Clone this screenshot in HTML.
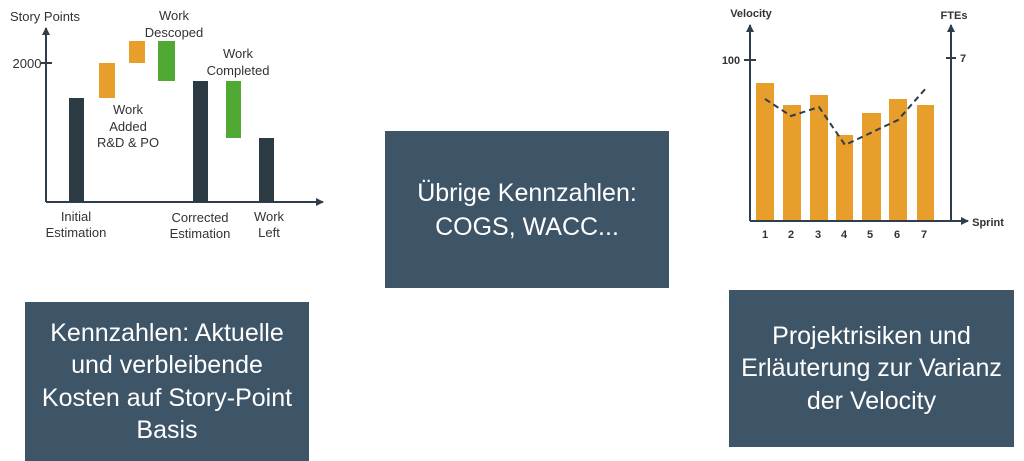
<!DOCTYPE html>
<html><head><meta charset="utf-8"><style>
html,body{margin:0;padding:0;background:#fff;width:1024px;height:461px;overflow:hidden;position:relative;font-family:"Liberation Sans",sans-serif}
.box{position:absolute;background:#3e5467;color:#fff;display:flex;align-items:center;justify-content:center;text-align:center;font-size:25px;line-height:32.5px;white-space:nowrap}
svg{position:absolute;left:0;top:0}
</style></head><body>
<svg width="1024" height="461" viewBox="0 0 1024 461" font-family="Liberation Sans, sans-serif">
<defs><marker id="a" markerWidth="8" markerHeight="8" refX="7" refY="4" orient="auto" markerUnits="userSpaceOnUse"><path d="M0,0 L8,4 L0,8 z" fill="#2f3e4a"/></marker></defs>
<g stroke="#2f3e4a" stroke-width="2" fill="none">
<line x1="46" y1="202" x2="46" y2="28" marker-end="url(#a)"/>
<line x1="46" y1="202" x2="323" y2="202" marker-end="url(#a)"/>
<line x1="41" y1="63" x2="52" y2="63"/>
</g>
<rect x="69" y="98" width="15" height="104" fill="#2b3a43"/>
<rect x="99" y="63" width="16" height="35" fill="#e89e2a"/>
<rect x="129" y="41" width="16" height="22" fill="#e89e2a"/>
<rect x="158" y="41" width="17" height="40" fill="#4fa933"/>
<rect x="193" y="81" width="15" height="121" fill="#2b3a43"/>
<rect x="226" y="81" width="15" height="57" fill="#4fa933"/>
<rect x="259" y="138" width="15" height="64" fill="#2b3a43"/>
<g font-size="13" fill="#333" text-anchor="middle">
<text x="45" y="21">Story Points</text>
<text x="27" y="68">2000</text>
<text x="174" y="20">Work</text><text x="174" y="37">Descoped</text>
<text x="238" y="58">Work</text><text x="238" y="75">Completed</text>
<text x="128" y="114">Work</text><text x="128" y="131">Added</text><text x="128" y="147">R&amp;D &amp; PO</text>
<text x="76" y="221">Initial</text><text x="76" y="237">Estimation</text>
<text x="200" y="222">Corrected</text><text x="200" y="238">Estimation</text>
<text x="269" y="221">Work</text><text x="269" y="237">Left</text>
</g>
<rect x="756" y="83" width="18" height="138" fill="#e89e2a"/>
<rect x="783" y="105" width="18" height="116" fill="#e89e2a"/>
<rect x="810" y="95" width="18" height="126" fill="#e89e2a"/>
<rect x="836" y="135" width="17" height="86" fill="#e89e2a"/>
<rect x="862" y="113" width="19" height="108" fill="#e89e2a"/>
<rect x="889" y="99" width="18" height="122" fill="#e89e2a"/>
<rect x="917" y="105" width="17" height="116" fill="#e89e2a"/>
<g stroke="#2f3e4a" stroke-width="2" fill="none">
<line x1="750" y1="221" x2="750" y2="25" marker-end="url(#a)"/>
<line x1="951" y1="221" x2="951" y2="25" marker-end="url(#a)"/>
<line x1="750" y1="221" x2="968" y2="221" marker-end="url(#a)"/>
<line x1="744" y1="60" x2="756" y2="60"/>
<line x1="946" y1="58" x2="956" y2="58"/>
<polyline points="765,99 791,116 819,107 845,145 898,120 927,87" stroke-dasharray="6,4"/>
</g>
<g font-size="11" font-weight="bold" fill="#333" text-anchor="middle">
<text x="751" y="17">Velocity</text>
<text x="954" y="19">FTEs</text>
<text x="988" y="226">Sprint</text>
<text x="731" y="64">100</text>
<text x="963" y="62">7</text>
<text x="765" y="238">1</text><text x="791" y="238">2</text><text x="818" y="238">3</text><text x="844" y="238">4</text><text x="870" y="238">5</text><text x="897" y="238">6</text><text x="924" y="238">7</text>
</g>
</svg>
<div class="box" style="left:385px;top:131px;width:284px;height:157px;line-height:34px">Übrige Kennzahlen:<br>COGS, WACC...</div>
<div class="box" style="left:25px;top:302px;width:284px;height:159px">Kennzahlen: Aktuelle<br>und verbleibende<br>Kosten auf Story-Point<br>Basis</div>
<div class="box" style="left:729px;top:290px;width:285px;height:157px">Projektrisiken und<br>Erläuterung zur Varianz<br>der Velocity</div>
</body></html>
